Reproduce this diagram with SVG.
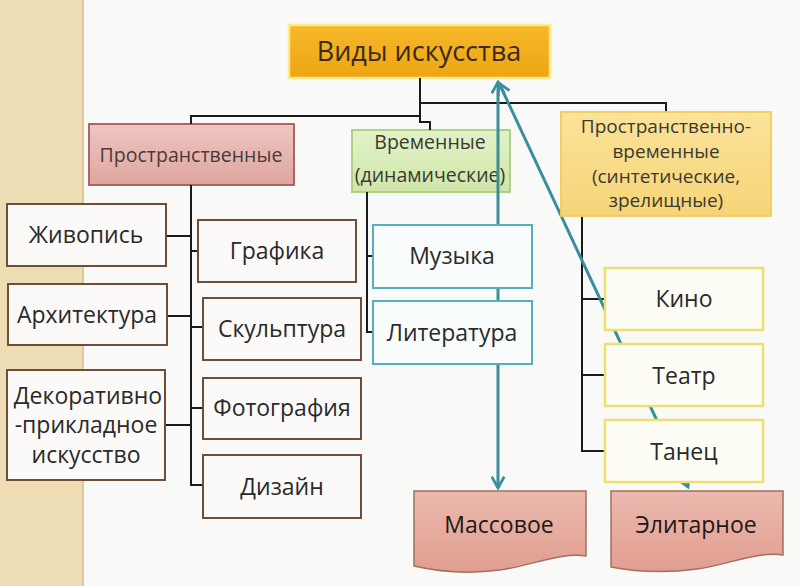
<svg xmlns="http://www.w3.org/2000/svg" width="800" height="586" viewBox="0 0 800 586">
<defs>
<linearGradient id="gRoot" x1="0" y1="0" x2="0" y2="1"><stop offset="0" stop-color="#f6b82a"/><stop offset="1" stop-color="#eea512"/></linearGradient>
<linearGradient id="gPink" x1="0" y1="0" x2="0" y2="1"><stop offset="0" stop-color="#eec6c0"/><stop offset="1" stop-color="#dea5a0"/></linearGradient>
<linearGradient id="gGreen" x1="0" y1="0" x2="0" y2="1"><stop offset="0" stop-color="#e2f2c8"/><stop offset="1" stop-color="#cfe6a8"/></linearGradient>
<linearGradient id="gGold" x1="0" y1="0" x2="0" y2="1"><stop offset="0" stop-color="#fbe39a"/><stop offset="1" stop-color="#f6d478"/></linearGradient>
<linearGradient id="gSalmon" x1="0" y1="0" x2="0" y2="1"><stop offset="0" stop-color="#ecb9ae"/><stop offset="1" stop-color="#e09e90"/></linearGradient>
<marker id="arr" viewBox="0 0 12 12" refX="10" refY="6" markerWidth="15" markerHeight="15" markerUnits="userSpaceOnUse" orient="auto-start-reverse">
<path d="M1,1 L10,6 L1,11" fill="none" stroke="#3a8e9c" stroke-width="2.2"/>
</marker>
</defs>
<style>
text{font-family:"Open Sans","Noto Sans","DejaVu Sans",sans-serif;fill:#2a2a2a;text-anchor:middle;}
.leaf{font-size:23px;}
.brown{fill:#fbfaf8;stroke:#6e4e36;stroke-width:2;}
.teal{fill:#f9fcfc;stroke:#58aebe;stroke-width:2;}
.yel{fill:#fdfdf6;stroke:#eee070;stroke-width:2.5;}
.doc{fill:url(#gSalmon);stroke:#a07060;stroke-width:1.5;}
.tree{fill:none;stroke:#1a1a1a;stroke-width:2;}
.tl{fill:none;stroke:#3a8e9c;stroke-width:3;}
.hd{fill:#3a3a30;}
</style>
<rect x="0" y="0" width="800" height="586" fill="#f9f9f7"/>
<rect x="0" y="0" width="83" height="586" fill="#eddcb4"/>
<rect x="82" y="0" width="2" height="586" fill="#dcc89a"/>

<g id="root">
<rect x="289" y="25" width="261" height="53" fill="url(#gRoot)" stroke="#fbe890" stroke-width="2.5"/>
<text x="419" y="61" style="font-size:27px;fill:#3a2a1e">Виды искусства</text>
</g>
<g id="spatial">
<rect x="89" y="124" width="205" height="61" fill="url(#gPink)" stroke="#a45a54" stroke-width="1.8"/>
<text x="191" y="162" style="font-size:19.5px;fill:#4a3a38">Пространственные</text>
</g>
<g id="temporal">
<rect x="352" y="130" width="158" height="62" fill="url(#gGreen)" stroke="#a8cc7a" stroke-width="1.8"/>
<text class="hd" x="430" y="149" style="font-size:19.5px">Временные</text>
<text class="hd" x="430" y="182" style="font-size:19.5px">(динамические)</text>
</g>

<g id="connectors">
<path class="tree" d="M420,78 V122 H430 V130 M420,116 H191 V124 M420,103 H666 V112"/>
<path class="tree" d="M191,185 V485 H203 M166,236 H191 M167,316 H191 M165,425 H191 M191,251 H198 M191,327 H203 M191,408 H203"/>
<path class="tree" d="M367,192 V332 H373 M367,256 H373"/>
<path class="tree" d="M582,216 V451 H605 M582,299 H605 M582,375 H605"/>
<line class="tl" x1="498" y1="82" x2="498" y2="488" marker-start="url(#arr)" marker-end="url(#arr)"/>
<line class="tl" x1="499" y1="83" x2="688" y2="487" marker-start="url(#arr)" marker-end="url(#arr)"/>
</g>

<g id="spatiotemporal">
<rect x="561" y="112" width="210" height="104" fill="url(#gGold)" stroke="#f2cc58" stroke-width="1.8"/>
<text class="hd" x="666" y="133" style="font-size:19px">Пространственно-</text>
<text class="hd" x="666" y="158" style="font-size:19px">временные</text>
<text class="hd" x="666" y="183" style="font-size:19px">(синтетические,</text>
<text class="hd" x="666" y="207" style="font-size:19px">зрелищные)</text>
</g>

<g id="painting"><rect class="brown" x="7" y="204" width="159" height="62"/><text class="leaf" x="86" y="243">Живопись</text></g>
<g id="architecture"><rect class="brown" x="8" y="284" width="159" height="61"/><text class="leaf" x="87" y="323">Архитектура</text></g>
<g id="decorative"><rect class="brown" x="7" y="370" width="158" height="110"/>
<text class="leaf" x="88" y="404">Декоративно</text><text class="leaf" x="86" y="433">-прикладное</text><text class="leaf" x="86" y="463">искусство</text></g>
<g id="graphics"><rect class="brown" x="198" y="220" width="158" height="62"/><text class="leaf" x="277" y="259">Графика</text></g>
<g id="sculpture"><rect class="brown" x="203" y="298" width="158" height="62"/><text class="leaf" x="282" y="337">Скульптура</text></g>
<g id="photo"><rect class="brown" x="203" y="378" width="158" height="61"/><text class="leaf" x="282" y="416">Фотография</text></g>
<g id="design"><rect class="brown" x="203" y="455" width="158" height="63"/><text class="leaf" x="282" y="495">Дизайн</text></g>

<g id="music"><rect class="teal" x="373" y="225" width="159" height="63"/><text class="leaf" x="452" y="264">Музыка</text></g>
<g id="literature"><rect class="teal" x="373" y="301" width="159" height="63"/><text class="leaf" x="452" y="341">Литература</text></g>

<g id="cinema"><rect class="yel" x="605" y="268" width="158" height="62"/><text class="leaf" x="684" y="307">Кино</text></g>
<g id="theatre"><rect class="yel" x="605" y="344" width="158" height="62"/><text class="leaf" x="684" y="384">Театр</text></g>
<g id="dance"><rect class="yel" x="605" y="420" width="158" height="62"/><text class="leaf" x="684" y="460">Танец</text></g>

<g id="mass"><path class="doc" d="M414,491 H586 V556 C560,552 530,566 500,570 C470,574 440,572 414,566 Z"/>
<text x="499" y="533" style="font-size:23px;fill:#221818">Массовое</text></g>
<g id="elite"><path class="doc" d="M611,491 H783 V555 C757,551 727,565 697,569 C667,573 637,572 611,567 Z"/>
<text x="696" y="533" style="font-size:23px;fill:#221818">Элитарное</text></g>
</svg>
